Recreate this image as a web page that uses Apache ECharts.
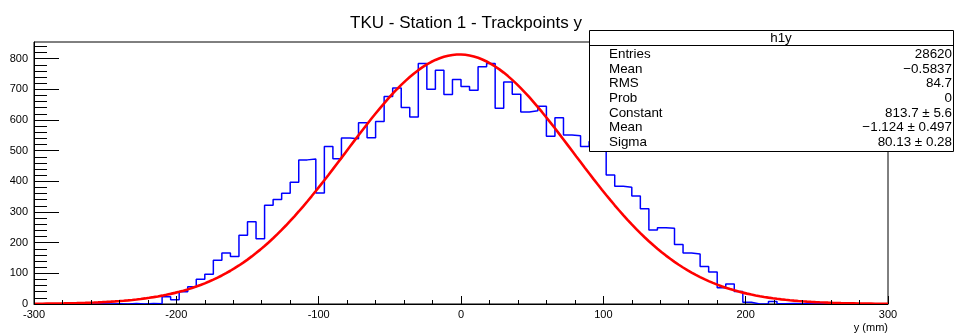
<!DOCTYPE html>
<html>
<head>
<meta charset="utf-8">
<script src="https://cdn.jsdelivr.net/npm/echarts@6/dist/echarts.min.js"></script>
<style>
  html, body { margin: 0; padding: 0; background: #fff; }
  #chart { width: 956px; height: 333px; }
</style>
</head>
<body>
<div id="chart"></div>
<script>
// Histogram h1y: 100 bins of 6 mm between -300 mm and 300 mm
const binLow = -300;
const binWidth = 6;
const binCounts = [
  0, 1, 0, 1, 0, 1, 0, 1, 0, 1, 0, 2, 0, 2, 1,
  24, 14, 40, 56, 81, 97,
  143, 166, 155, 224, 268, 213, 322, 341, 361, 397,
  470, 473, 362, 514, 474, 541, 539, 591, 542, 595,
  677, 704, 641, 610, 784, 700, 762, 683, 732, 709,
  697, 774, 784, 638, 724, 684, 626, 630, 645, 547,
  607, 551, 549, 514, 530, 520, 421, 384, 381, 352,
  311, 241, 249, 247, 194, 166, 163, 122, 104, 53,
  65, 41, 6, 0, 1, 8, 1, 2, 1, 2,
  1, 1, 0, 1, 0, 1, 0, 1, 0
];

// Gaussian fit result
const fitConstant = 813.7, fitConstantErr = 5.6;
const fitMean = -1.124, fitMeanErr = 0.497;
const fitSigma = 80.13, fitSigmaErr = 0.28;

// Histogram statistics
const statEntries = 28620;
const statMean = -0.5837;
const statRms = 84.7;
const statProb = 0;

// Axes
const xMin = -300, xMax = 300;
const yMax = 854.4;
const yMajorTicks = [0, 100, 200, 300, 400, 500, 600, 700, 800];
const yMinorTicks = [0, 20, 40, 60, 80, 100, 120, 140, 160, 180, 200, 220, 240, 260, 280,
  300, 320, 340, 360, 380, 400, 420, 440, 460, 480, 500, 520, 540, 560, 580, 600,
  620, 640, 660, 680, 700, 720, 740, 760, 780, 800, 820, 840];

const FONT = '"Liberation Sans", Arial, Helvetica, sans-serif';

// Step outline: one point per lower bin edge, plus the upper edge of the last bin
const histData = binCounts.map((c, k) => [binLow + k * binWidth, c]);
histData.push([binLow + binCounts.length * binWidth, binCounts[binCounts.length - 1]]);

// Fitted Gaussian evaluated over the axis range
const fitData = [];
for (let i = 0; i <= 200; i++) {
  const x = xMin + (xMax - xMin) * i / 200;
  const z = (x - fitMean) / fitSigma;
  fitData.push([x, fitConstant * Math.exp(-0.5 * z * z)]);
}

const fmt = (v, d) => v.toFixed(d).replace('-', '\u2212');
const statsRows = [
  ['Entries', String(statEntries)],
  ['Mean', fmt(statMean, 4)],
  ['RMS', fmt(statRms, 1)],
  ['Prob', String(statProb)],
  ['Constant', fmt(fitConstant, 1) + ' \u00b1 ' + fmt(fitConstantErr, 1)],
  ['Mean', fmt(fitMean, 3) + ' \u00b1 ' + fmt(fitMeanErr, 3)],
  ['Sigma', fmt(fitSigma, 2) + ' \u00b1 ' + fmt(fitSigmaErr, 2)]
];

// Statistics box drawn on top of the frame
const boxX = 589.5, boxY = 30.5, boxW = 364, boxH = 121, headerH = 15;
const statsGraphics = [
  { type: 'rect', z: 100, shape: { x: boxX, y: boxY, width: boxW, height: boxH },
    style: { fill: '#fff', stroke: '#000', lineWidth: 1 } },
  { type: 'line', z: 101, shape: { x1: boxX, y1: boxY + headerH, x2: boxX + boxW, y2: boxY + headerH },
    style: { stroke: '#000', lineWidth: 1 } },
  { type: 'text', z: 101, x: 781, y: 38,
    style: { text: 'h1y', font: '13.4px ' + FONT, fill: '#000', align: 'center', verticalAlign: 'middle' } }
];
statsRows.forEach((row, i) => {
  const cy = 54.3 + i * 14.7;
  statsGraphics.push({ type: 'text', z: 101, x: 609, y: cy,
    style: { text: row[0], font: '13.4px ' + FONT, fill: '#000', align: 'left', verticalAlign: 'middle' } });
  statsGraphics.push({ type: 'text', z: 101, x: 952, y: cy,
    style: { text: row[1], font: '13.4px ' + FONT, fill: '#000', align: 'right', verticalAlign: 'middle' } });
});

const chart = echarts.init(document.getElementById('chart'), null, { renderer: 'canvas' });
chart.setOption({
  animation: false,
  backgroundColor: '#fff',
  title: {
    text: 'TKU - Station 1 - Trackpoints y',
    left: 461, top: 10, textAlign: 'center',
    textStyle: { fontFamily: FONT, fontSize: 17, fontWeight: 'normal', color: '#000' }
  },
  grid: {
    left: 34, right: 68, top: 42, bottom: 24,
    show: true, borderColor: '#000', borderWidth: 1, backgroundColor: 'transparent'
  },
  xAxis: {
    type: 'value', min: xMin, max: xMax, interval: 100, z: 5,
    name: 'y (mm)', nameLocation: 'end', nameGap: 0,
    nameTextStyle: { fontFamily: FONT, fontSize: 11, color: '#000', align: 'right', verticalAlign: 'top', padding: [18, 0, 0, 0] },
    axisLine: { show: true, onZero: false, lineStyle: { color: '#000', width: 1 } },
    axisTick: { show: true, inside: true, length: 8, lineStyle: { color: '#000', width: 1 } },
    minorTick: { show: true, splitNumber: 5, length: 4, lineStyle: { color: '#000', width: 1 } },
    axisLabel: { fontFamily: FONT, fontSize: 11, color: '#000', margin: 5 },
    splitLine: { show: false }
  },
  yAxis: [
    {
      type: 'value', min: 0, max: yMax, position: 'left', z: 5,
      axisLine: { show: true, onZero: false, lineStyle: { color: '#000', width: 1 } },
      axisTick: { show: true, inside: true, length: 25, customValues: yMajorTicks, lineStyle: { color: '#000', width: 1 } },
      axisLabel: { customValues: yMajorTicks, fontFamily: FONT, fontSize: 11, color: '#000', margin: 6 },
      splitLine: { show: false }
    },
    {
      type: 'value', min: 0, max: yMax, position: 'left', z: 5,
      axisLine: { show: false, onZero: false },
      axisTick: { show: true, inside: true, length: 13, customValues: yMinorTicks, lineStyle: { color: '#000', width: 1 } },
      axisLabel: { show: false },
      splitLine: { show: false }
    }
  ],
  series: [
    {
      name: 'h1y', type: 'line', step: 'end', data: histData, yAxisIndex: 0,
      showSymbol: false, z: 2,
      lineStyle: { color: '#0000ff', width: 1.5 }
    },
    {
      name: 'gaus', type: 'line', data: fitData, yAxisIndex: 0,
      showSymbol: false, z: 3,
      lineStyle: { color: '#ff0000', width: 2.6 }
    }
  ],
  graphic: statsGraphics
});
</script>
</body>
</html>
